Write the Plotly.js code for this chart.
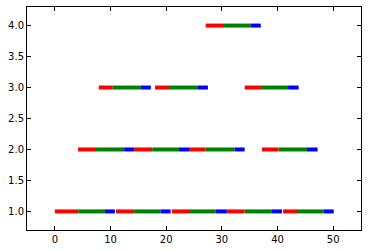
<!DOCTYPE html>
<html>
<head>
<meta charset="utf-8">
<script src="https://cdn.plot.ly/plotly-3.0.1.min.js"></script>
<style>html,body{margin:0;padding:0;background:#fff;}#chart{width:368px;height:251px;}</style>
</head>
<body>
<div id="chart"></div>
<script>
// Each task: row (y), start of red phase, red->green boundary, green->blue boundary, end of blue phase
const taskRow    = [1, 1, 1, 1, 1, 2, 2, 2, 2, 3, 3, 3, 4];
const redStart   = [0.0, 11.0, 21.0, 30.9, 41.0, 4.15, 14.25, 24.1, 37.2, 7.9, 18.0, 34.1, 27.1];
const greenStart = [4.2, 14.25, 24.1, 34.1, 43.5, 7.4, 17.5, 27.1, 40.2, 10.4, 20.5, 37.2, 30.4];
const blueStart  = [9.0, 19.0, 28.9, 39.0, 48.3, 12.45, 22.3, 32.3, 45.3, 15.45, 25.7, 41.9, 35.2];
const blueEnd    = [10.8, 20.8, 30.9, 40.8, 50.1, 14.25, 24.1, 34.1, 47.2, 17.25, 27.5, 43.8, 37.0];

const xTicks = [0, 10, 20, 30, 40, 50];
const yTicks = [1.0, 1.5, 2.0, 2.5, 3.0, 3.5, 4.0];

function segs(a, b) {
  const xs = [], ys = [];
  for (let i = 0; i < taskRow.length; i++) {
    xs.push(a[i], b[i], null);
    ys.push(taskRow[i], taskRow[i], null);
  }
  return {xs, ys};
}
const phases = [
  [redStart, greenStart, '#ff0000'],
  [greenStart, blueStart, '#008000'],
  [blueStart, blueEnd, '#0000ff']
];
const traces = phases.map(([a, b, c]) => {
  const s = segs(a, b);
  return {x: s.xs, y: s.ys, type: 'scatter', mode: 'lines',
          line: {color: c, width: 4}, connectgaps: false, hoverinfo: 'skip', showlegend: false};
});

const axisCommon = {
  showgrid: false, zeroline: false, showline: true, mirror: 'ticks',
  linecolor: '#000', linewidth: 1, ticks: 'inside', ticklen: 4, tickwidth: 1, tickcolor: '#000',
  tickfont: {family: 'DejaVu Sans', size: 10, color: '#000'}
};
const layout = {
  width: 368, height: 251,
  margin: {l: 27, r: 7, t: 7, b: 21, pad: 0},
  paper_bgcolor: '#fff', plot_bgcolor: '#fff',
  xaxis: Object.assign({}, axisCommon, {range: [-5, 55], tickvals: xTicks, ticktext: xTicks.map(String)}),
  yaxis: Object.assign({}, axisCommon, {range: [0.7, 4.3], tickvals: yTicks, ticktext: yTicks.map(v => v.toFixed(1))}),
  showlegend: false
};
Plotly.newPlot('chart', traces, layout, {staticPlot: true, displayModeBar: false});
</script>
</body>
</html>
